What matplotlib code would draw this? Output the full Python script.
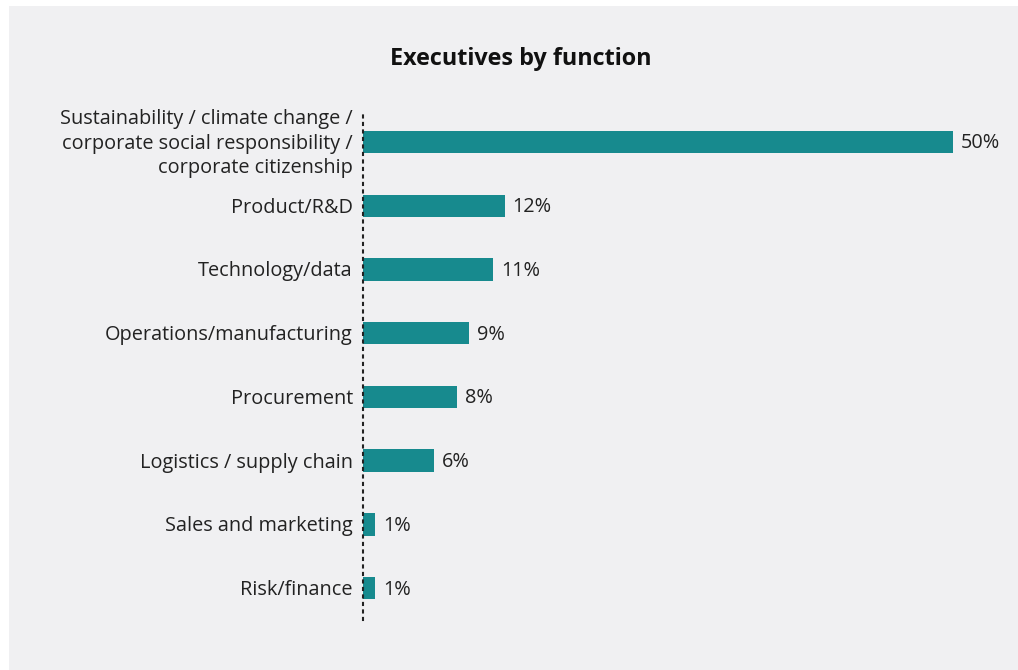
import matplotlib
matplotlib.use("Agg")
import matplotlib.pyplot as plt
from matplotlib.patches import Rectangle
from matplotlib.transforms import blended_transform_factory, offset_copy

categories = [
    "Sustainability / climate change /\ncorporate social responsibility /\ncorporate citizenship",
    "Product/R&D",
    "Technology/data",
    "Operations/manufacturing",
    "Procurement",
    "Logistics / supply chain",
    "Sales and marketing",
    "Risk/finance",
]
values = [50, 12, 11, 9, 8, 6, 1, 1]
title = "Executives by function"

W, H = 1018, 670
BG = "#f0f0f2"
BAR = "#178a8e"
TXT = "#222222"
FONT = ["Open Sans", "DejaVu Sans"]

fig = plt.figure(figsize=(W / 100, H / 100), dpi=100)
fig.patch.set_facecolor("white")
fig.add_artist(Rectangle((9 / W, 0), 1 - 9 / W, (H - 6) / H,
                         transform=fig.transFigure, facecolor=BG,
                         edgecolor="none", zorder=0))

x0, x1 = 363, 953
y_top, y_bot = 112, 620
ax = fig.add_axes([x0 / W, (H - y_bot) / H, (x1 - x0) / W, (y_bot - y_top) / H])
ax.set_facecolor("none")

pos = list(range(len(categories)))
ax.barh(pos, values, height=0.35, color=BAR, zorder=2)
ax.set_xlim(0, 50)
ax.set_ylim(7.5, -0.47)

# Value labels to the right of each bar
value_tf = offset_copy(ax.transData, fig=fig, x=8, y=-1.5, units="dots")
for p, v in zip(pos, values):
    ax.text(v, p, f"{v}%", transform=value_tf, va="center", ha="left",
            fontsize=14.3, color=TXT, family=FONT)

# Category labels, right-aligned just left of the dotted axis line
label_tf = offset_copy(blended_transform_factory(ax.transAxes, ax.transData),
                       fig=fig, x=-10, y=-2, units="dots")
for p, name in zip(pos, categories):
    ax.text(0, p, name, transform=label_tf, ha="right", va="center",
            multialignment="right", fontsize=14.3, color=TXT, family=FONT,
            linespacing=1.3, clip_on=False)

ax.set_yticks([])
ax.set_xticks([])

for s in ("top", "right", "bottom"):
    ax.spines[s].set_visible(False)
ax.spines["left"].set_linestyle((0, (1, 2.6)))
ax.spines["left"].set_linewidth(1.5)
ax.spines["left"].set_color("#222222")

fig.text(521 / W, (H - 59) / H, title, ha="center", va="center",
         fontsize=16.8, fontweight="bold", color="#111111", family=FONT)

fig.savefig("out.png", dpi=100, facecolor="white")
